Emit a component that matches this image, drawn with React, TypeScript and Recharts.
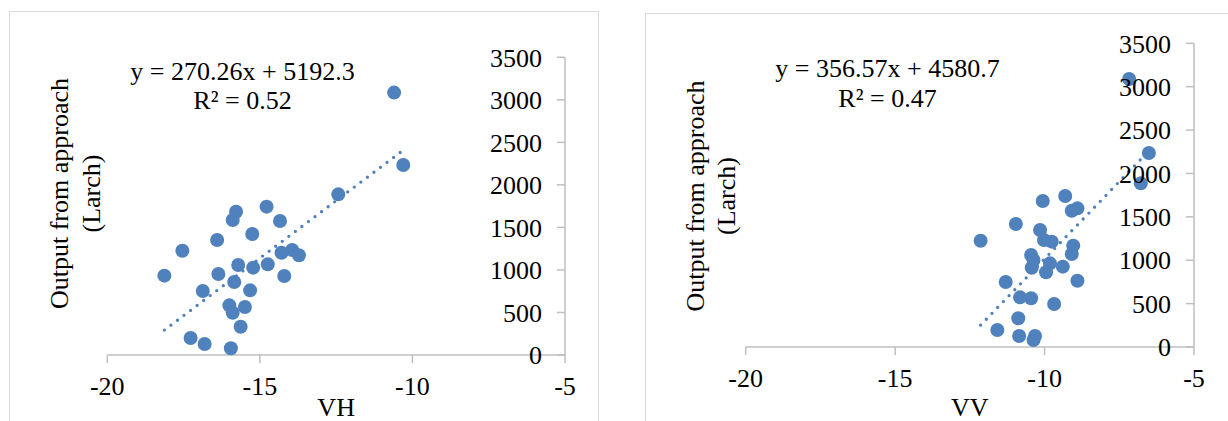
import { Scatter, ScatterChart, XAxis, YAxis } from 'recharts';

// VH panel (left)
const VH_X = [
  -10.6, -10.3, -12.43, -14.78, -15.78, -15.89, -14.34, -15.25, -16.4, -17.54, -14.29, -13.94, -13.72,
  -15.71, -15.22, -14.74, -18.13, -16.36, -14.2, -15.84, -16.87, -15.32, -16.0, -15.49, -15.89, -15.63,
  -17.27, -16.81, -15.95,
];
const VH_OUT = [
  3085, 2234, 1889, 1744, 1685, 1587, 1575, 1422, 1352, 1226, 1203, 1234, 1172, 1058, 1027, 1066, 933,
  952, 929, 858, 752, 760, 584, 564, 497, 333, 200, 129, 79,
];

// VV panel (right)
const VV_X = [
  -7.17, -6.51, -6.78, -9.31, -10.06, -9.09, -8.9, -10.96, -10.15, -12.14, -10.02, -9.76, -9.04, -10.45,
  -9.09, -10.37, -9.82, -9.39, -10.43, -9.95, -8.9, -11.3, -10.82, -10.45, -9.68, -10.88, -11.58, -10.85,
  -10.32, -10.37,
];
const VV_OUT = [
  3089, 2236, 1886, 1740, 1683, 1571, 1598, 1418, 1348, 1225, 1233, 1214, 1168, 1060, 1072, 1003, 964,
  926, 914, 861, 764, 749, 572, 561, 496, 331, 196, 127, 127, 81,
];

const TREND_SLOPE = [270.26, 356.57];
const TREND_INTERCEPT = [5192.3, 4580.7];
const R_SQUARED = ['0.52', '0.47'];
const X_TITLES = ['VH', 'VV'];
const Y_TITLE = ['Output from approach', '(Larch)'];

const X_TICKS = [-20, -15, -10, -5];
const Y_TICKS = [0, 500, 1000, 1500, 2000, 2500, 3000, 3500];

const FONT = "'Liberation Serif', 'Times New Roman', serif";
const BLUE = '#4F81BD';
const AXIS = '#BFBFBF';
const H = 421;

const tickStyle = { fontSize: 26, fontFamily: FONT, fill: '#000' };

const Dot = (props: any) => <circle cx={props.cx} cy={props.cy} r={7} fill={BLUE} />;
const NoDot = () => <g />;

interface PanelProps {
  left: number;
  width: number;
  margin: { top: number; right: number; bottom: number; left: number };
  frame: { x: number; y: number; w: number };
  xs: number[];
  ys: number[];
  idx: number;
  eq: { cx: number; y1: number; y2: number };
  yTitle: { x1: number; x2: number; cy: number };
}

const Panel = ({ left, width, margin, frame, xs, ys, idx, eq, yTitle }: PanelProps) => {
  const points = xs.map((x, i) => ({ x, y: ys[i] }));
  const slope = TREND_SLOPE[idx];
  const icpt = TREND_INTERCEPT[idx];
  const trend = [Math.min(...xs), Math.max(...xs)].map((x) => ({ x, y: slope * x + icpt }));
  const plotCx = margin.left + (width - margin.left - margin.right) / 2;

  return (
    <div style={{ position: 'absolute', left, top: 0, width, height: H }}>
      <div
        style={{
          position: 'absolute',
          left: frame.x,
          top: frame.y,
          width: frame.w,
          height: 440,
          border: '1px solid #D9D9D9',
          boxSizing: 'border-box',
        }}
      />
      <div style={{ position: 'absolute', left: 0, top: 0 }}>
        <ScatterChart width={width} height={H} margin={margin}>
          <XAxis
            type='number'
            dataKey='x'
            domain={[-20, -5]}
            ticks={X_TICKS}
            height={40}
            tickSize={8}
            tickMargin={14}
            tick={tickStyle}
            axisLine={{ stroke: AXIS, strokeWidth: 1.5 }}
            tickLine={{ stroke: AXIS, strokeWidth: 1.5 }}
          />
          <YAxis
            type='number'
            dataKey='y'
            orientation='right'
            mirror
            width={60}
            domain={[0, 3500]}
            ticks={Y_TICKS}
            interval={0}
            tickSize={8}
            tickMargin={15}
            tick={tickStyle}
            axisLine={{ stroke: AXIS, strokeWidth: 1.5 }}
            tickLine={{ stroke: AXIS, strokeWidth: 1.5 }}
          />
          <Scatter data={points} shape={Dot} isAnimationActive={false} />
          <Scatter
            data={trend}
            shape={NoDot}
            line={{ stroke: BLUE, strokeWidth: 3.3, strokeDasharray: '0 8.2', strokeLinecap: 'round' }}
            isAnimationActive={false}
          />
        </ScatterChart>
      </div>
      <svg
        width={width}
        height={H}
        style={{ position: 'absolute', left: 0, top: 0, pointerEvents: 'none' }}
        fontFamily={FONT}
        fontSize={26}
        fill='#000'
      >
        <text x={eq.cx} y={eq.y1} textAnchor='middle'>
          {`y = ${slope}x + ${icpt}`}
        </text>
        <text x={eq.cx} y={eq.y2} textAnchor='middle'>
          {`R² = ${R_SQUARED[idx]}`}
        </text>
        <text transform={`translate(${yTitle.x1},${yTitle.cy}) rotate(-90)`} textAnchor='middle'>
          {Y_TITLE[0]}
        </text>
        <text transform={`translate(${yTitle.x2},${yTitle.cy}) rotate(-90)`} textAnchor='middle'>
          {Y_TITLE[1]}
        </text>
        <text x={plotCx} y={416} textAnchor='middle'>
          {X_TITLES[idx]}
        </text>
      </svg>
    </div>
  );
};

export default function App() {
  return (
    <div
      style={{
        position: 'absolute',
        left: 0,
        top: 0,
        width: 1228,
        height: H,
        overflow: 'hidden',
        background: '#fff',
      }}
    >
      <Panel
        left={0}
        width={614}
        margin={{ top: 57.3, right: 49, bottom: 26, left: 107.3 }}
        frame={{ x: 9, y: 11, w: 590 }}
        xs={VH_X}
        ys={VH_OUT}
        idx={0}
        eq={{ cx: 242.5, y1: 80, y2: 109.3 }}
        yTitle={{ x1: 68, x2: 99.5, cy: 193.5 }}
      />
      <Panel
        left={614}
        width={614}
        margin={{ top: 43.3, right: 34, bottom: 34, left: 131.7 }}
        frame={{ x: 31, y: 13, w: 620 }}
        xs={VV_X}
        ys={VV_OUT}
        idx={1}
        eq={{ cx: 273.5, y1: 77.3, y2: 106.7 }}
        yTitle={{ x1: 90, x2: 121, cy: 196 }}
      />
    </div>
  );
}
